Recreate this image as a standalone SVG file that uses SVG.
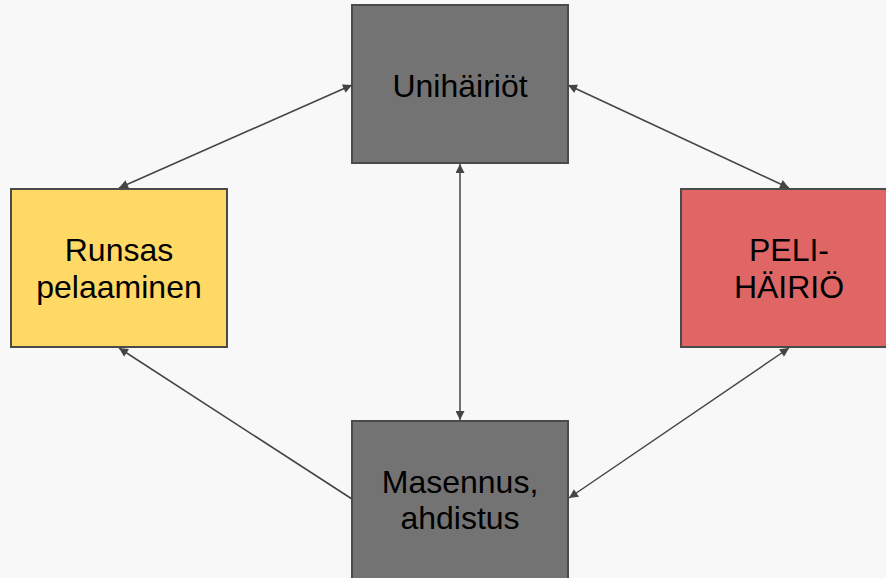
<svg xmlns="http://www.w3.org/2000/svg" width="886" height="578" viewBox="0 0 886 578">
<style>
.box{stroke:#4a4a4a;stroke-width:2}
.gray{fill:#737373}
.yellow{fill:#ffd966}
.red{fill:#e06666}
.lbl{font-family:"Liberation Sans",Arial,sans-serif;font-size:32px;fill:#000;text-anchor:middle}
.con{stroke:#444;stroke-width:1.5;fill:none}
</style>
<defs>
<marker id="ah" viewBox="0 0 10 10" refX="10" refY="5" markerWidth="10" markerHeight="9" markerUnits="userSpaceOnUse" orient="auto-start-reverse">
<path d="M0,0 L10,5 L0,10 z" fill="#444"/>
</marker>
</defs>
<rect width="886" height="578" fill="#f8f8f8"/>
<g id="connectors">
<line class="con" x1="352" y1="85" x2="119" y2="188" marker-start="url(#ah)" marker-end="url(#ah)"/>
<line class="con" x1="568" y1="85" x2="789" y2="188" marker-start="url(#ah)" marker-end="url(#ah)"/>
<line class="con" x1="460" y1="164" x2="460" y2="420" marker-start="url(#ah)" marker-end="url(#ah)"/>
<line class="con" x1="352" y1="499" x2="119" y2="348" marker-end="url(#ah)"/>
<line class="con" x1="569" y1="498" x2="789" y2="348" marker-start="url(#ah)" marker-end="url(#ah)"/>
</g>
<g id="unihairiot">
<rect class="box gray" x="352" y="5" width="216" height="158"/>
<text class="lbl" x="460" y="97">Unihäiriöt</text>
</g>
<g id="runsas">
<rect class="box yellow" x="11" y="189" width="216" height="158"/>
<text class="lbl" x="119" y="261">Runsas</text>
<text class="lbl" x="119" y="298">pelaaminen</text>
</g>
<g id="pelihairio">
<rect class="box red" x="681" y="189" width="216" height="158"/>
<text class="lbl" x="789" y="261">PELI-</text>
<text class="lbl" x="789" y="298">HÄIRIÖ</text>
</g>
<g id="masennus">
<rect class="box gray" x="352" y="421" width="216" height="158"/>
<text class="lbl" x="460" y="493">Masennus,</text>
<text class="lbl" x="460" y="529">ahdistus</text>
</g>
</svg>
